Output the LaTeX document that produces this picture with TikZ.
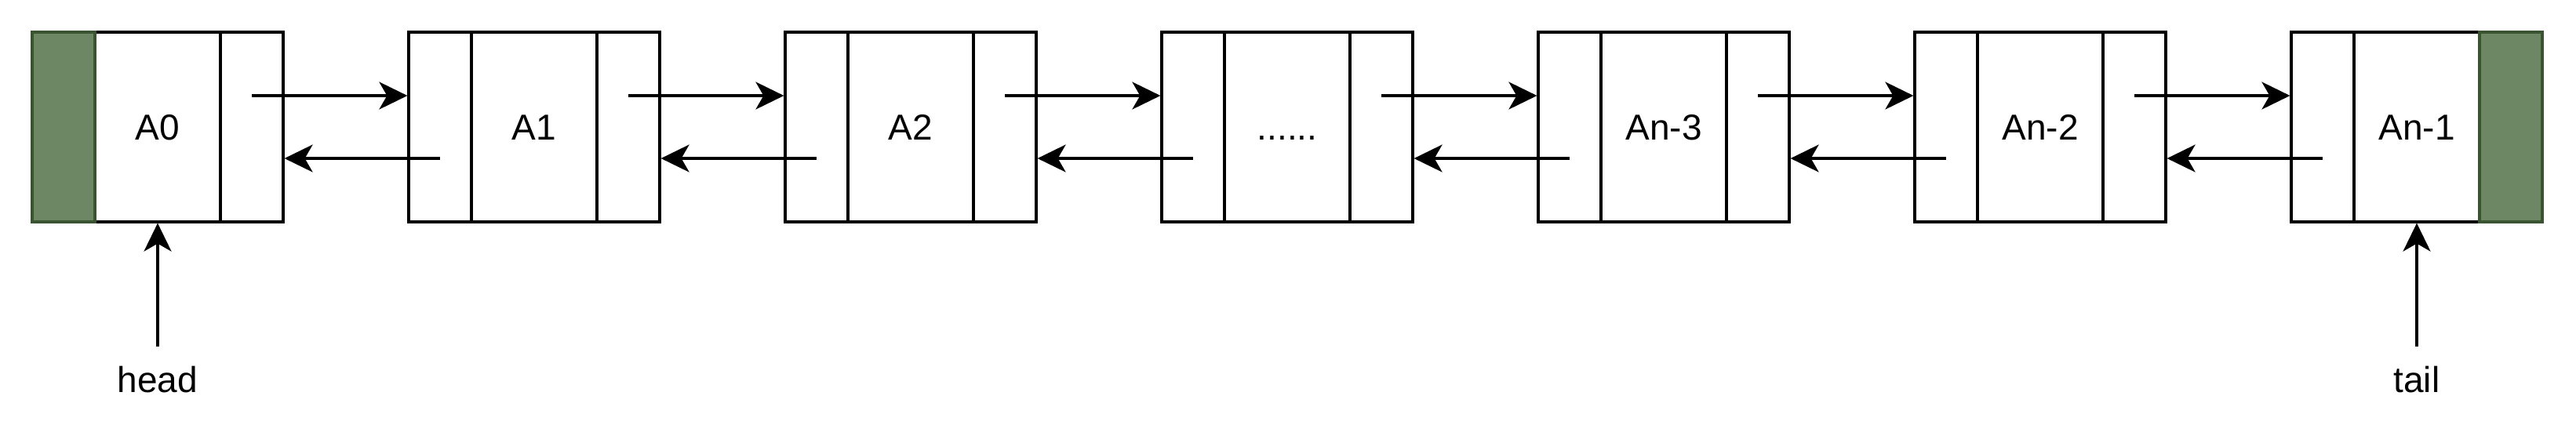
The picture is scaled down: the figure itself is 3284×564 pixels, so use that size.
\documentclass[tikz,border=0pt]{standalone}
\usepackage{fontspec}
\setmainfont{Liberation Sans}
\usetikzlibrary{arrows.meta}
\definecolor{gfill}{HTML}{6D8764}
\definecolor{gline}{HTML}{3A5431}
\begin{document}
\begin{tikzpicture}[x=0.5pt,y=-0.5pt,
  cell/.style={draw=black, line width=1.6pt, fill=white, inner sep=0pt, minimum height=121pt},
  ptr/.style={cell, minimum width=40pt},
  dat/.style={cell, minimum width=80pt, font=\fontsize{23}{28}\selectfont, text height=16.5pt, text depth=0pt},
  capcell/.style={draw=gline, fill=gfill, line width=1.6pt, inner sep=0pt, minimum height=121pt, minimum width=40pt},
  arr/.style={line width=1.6pt, -{Stealth[length=18pt,width=17.5pt,inset=5pt]}},
  lbl/.style={font=\fontsize{23}{28}\selectfont, inner sep=0pt}]
\useasboundingbox (0,0) rectangle (3284,564);
% first node A0
\node[dat] (d0) at (201,162) {A0};
\node[ptr] (r0) at (321,162) {};
\node[capcell] (g0) at (81,162) {};
% middle nodes
\foreach \i/\t in {1/A1,2/A2,3/{......},4/An-3,5/An-2}{
  \pgfmathsetmacro\s{41+480*\i}
  \node[ptr] (l\i) at (\s+40,162) {};
  \node[dat] (d\i) at (\s+160,162) {\t};
  \node[ptr] (r\i) at (\s+280,162) {};
}
% last node An-1
\node[ptr] (l6) at (2961,162) {};
\node[dat] (d6) at (3081,162) {An-1};
\node[capcell] (g6) at (3201,162) {};
% links
\foreach \i [evaluate=\i as \j using int(\i+1)] in {0,...,5}{
  \draw[arr] ([yshift=20pt]r\i.center) -- ([yshift=20pt]l\j.west);
  \draw[arr] ([yshift=-20pt]l\j.center) -- ([yshift=-20pt]r\i.east);
}
% head / tail
\node[lbl, anchor=base] (head) at (201,500) {head};
\node[lbl, anchor=base] (tail) at (3081,500) {tail};
\draw[arr] ([yshift=12pt]head.north) -- (head.north |- d0.south);
\draw[arr] ([yshift=12pt]tail.north) -- (tail.north |- d6.south);
\end{tikzpicture}
\end{document}
